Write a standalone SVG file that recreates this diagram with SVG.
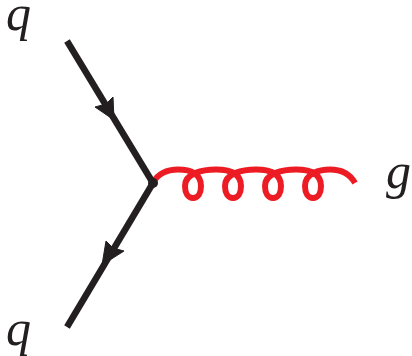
<svg xmlns="http://www.w3.org/2000/svg" width="412" height="356" viewBox="0 0 412 356">
<style>
.lbl{font-family:"Liberation Serif","Times New Roman",serif;font-style:italic;font-size:50px;fill:#231f20}
.quark{fill:none;stroke:#231f20;stroke-width:6.5}
.head{fill:#231f20;stroke:#231f20;stroke-width:1;stroke-linejoin:miter}
.gluon{fill:none;stroke:#ed1c24;stroke-width:6}
</style>
<rect width="412" height="356" fill="#fff"/>
<g id="connectors">
<path id="gluon" class="gluon" d="M153,183 C157,174 167,169.500 178,169.500 C191,169.500 201,174 201,186 C201,193 198,198 193,198 C188,198 185,193 185,186 C185,173 203,169.500 216,169.500 C231,169.500 241,174 241,186 C241,193 238,198 233,198 C228,198 225,193 225,186 C225,173 243,169.500 256,169.500 C271,169.500 281,174 281,186 C281,193 278,198 273,198 C268,198 265,193 265,186 C265,173 283,169.500 296,169.500 C311,169.500 321,174 321,186 C321,193 318,198 313,198 C308,198 305,193 305,186 C305,173 320,169.500 330,169.500 C341,169.500 350,174 355,183"/>
<path id="quark-in" class="quark" d="M67,41 L153,183"/>
<path id="quark-out" class="quark" d="M153,183 L67,327"/>
<polygon class="head" points="114,120 113,97 106,104 95,107"/>
<polygon class="head" points="102,265 106,241 113,248 124,251"/>
</g>
<g id="vertex"><circle cx="153" cy="183" r="5" fill="#231f20"/></g>
<g id="label-q-top"><text class="lbl" x="6" y="30">q</text></g>
<g id="label-q-bottom"><text class="lbl" x="6" y="345">q</text></g>
<g id="label-g"><text class="lbl" x="386" y="188">g</text></g>
</svg>
